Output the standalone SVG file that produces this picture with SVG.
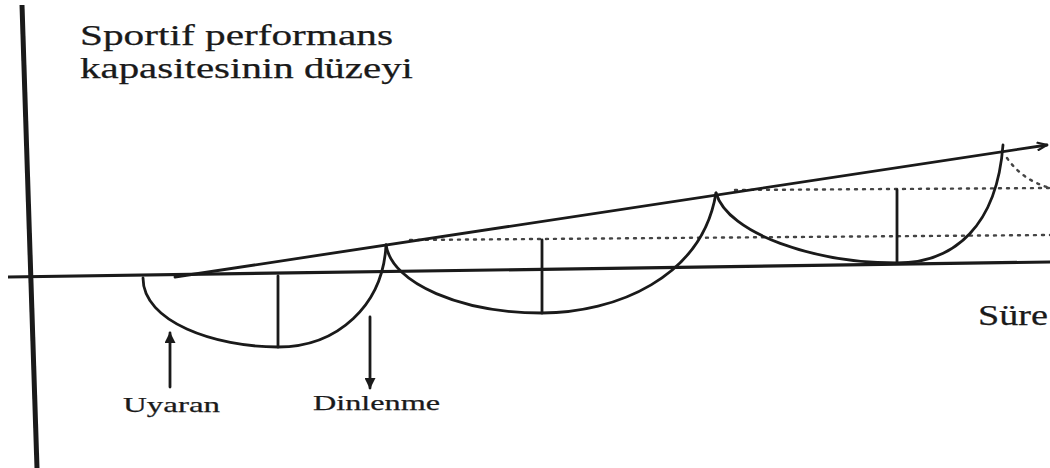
<svg xmlns="http://www.w3.org/2000/svg" width="1050" height="468" viewBox="0 0 1050 468">
<style>
.ln{fill:none;stroke:#1a1a1a;stroke-width:2.8;stroke-linecap:round}
.ax{fill:none;stroke:#1a1a1a;stroke-width:3.2}
.dot{fill:none;stroke:#444;stroke-width:2.4;stroke-dasharray:2 6;stroke-linecap:round}
.t{font-family:"Liberation Serif","Times New Roman",serif;fill:#1a1a1a;stroke:#1a1a1a;stroke-width:0.25}
</style>
<defs>
<marker id="open" viewBox="0 0 12 10" refX="11" refY="5" markerWidth="12" markerHeight="10" markerUnits="userSpaceOnUse" orient="auto">
<path d="M1,1 L11,5 L1,9" fill="none" stroke="#1a1a1a" stroke-width="2.2"/>
</marker>
<marker id="solid" viewBox="0 0 10 10" refX="9" refY="5" markerWidth="11" markerHeight="11" markerUnits="userSpaceOnUse" orient="auto">
<path d="M0,0 L10,5 L0,10 Z" fill="#1a1a1a"/>
</marker>
</defs>
<rect width="1050" height="468" fill="#ffffff"/>
<g id="axes">
<line class="ax" x1="22" y1="5" x2="37" y2="468" style="stroke-width:5"/>
<line class="ax" x1="8" y1="277" x2="1050" y2="262"/>
</g>
<g id="y-label">
<text class="t" x="80" y="45" font-size="29" textLength="313" lengthAdjust="spacingAndGlyphs">Sportif performans</text>
<text class="t" x="80" y="78" font-size="29" textLength="333" lengthAdjust="spacingAndGlyphs">kapasitesinin düzeyi</text>
</g>
<g id="x-label">
<text class="t" x="978" y="325" font-size="30" textLength="70" lengthAdjust="spacingAndGlyphs">Süre</text>
</g>
<g id="guides">
<path class="dot" d="M410,240 L1050,235"/>
<path class="dot" d="M735,190 L1050,188"/>
<path class="dot" d="M1007,158 Q1022,180 1050,188"/>
</g>
<g id="connectors">
<line class="ln" x1="175" y1="277" x2="1047" y2="145" marker-end="url(#open)"/>
<path id="dip1" class="ln" d="M143,278 C143,322 215,347 278,347 C338,347 383,305 386,245"/>
<line class="ln" x1="278" y1="276" x2="278" y2="347"/>
<path id="dip2" class="ln" d="M386,245 C392,284 462,313 542,313 C615,313 702,278 716,193"/>
<line class="ln" x1="542" y1="240" x2="542" y2="313"/>
<path id="dip3" class="ln" d="M716,193 C728,234 815,263 897,263 C955,263 997,225 1003,145"/>
<line class="ln" x1="897" y1="190" x2="897" y2="263"/>
<line class="ln" x1="170" y1="387" x2="170" y2="333" marker-end="url(#solid)"/>
<line class="ln" x1="370" y1="317" x2="370" y2="388" marker-end="url(#solid)"/>
</g>
<g id="uyaran">
<text class="t" x="123" y="412" font-size="22" textLength="97" lengthAdjust="spacingAndGlyphs">Uyaran</text>
</g>
<g id="dinlenme">
<text class="t" x="313" y="410" font-size="22" textLength="127" lengthAdjust="spacingAndGlyphs">Dinlenme</text>
</g>
</svg>
